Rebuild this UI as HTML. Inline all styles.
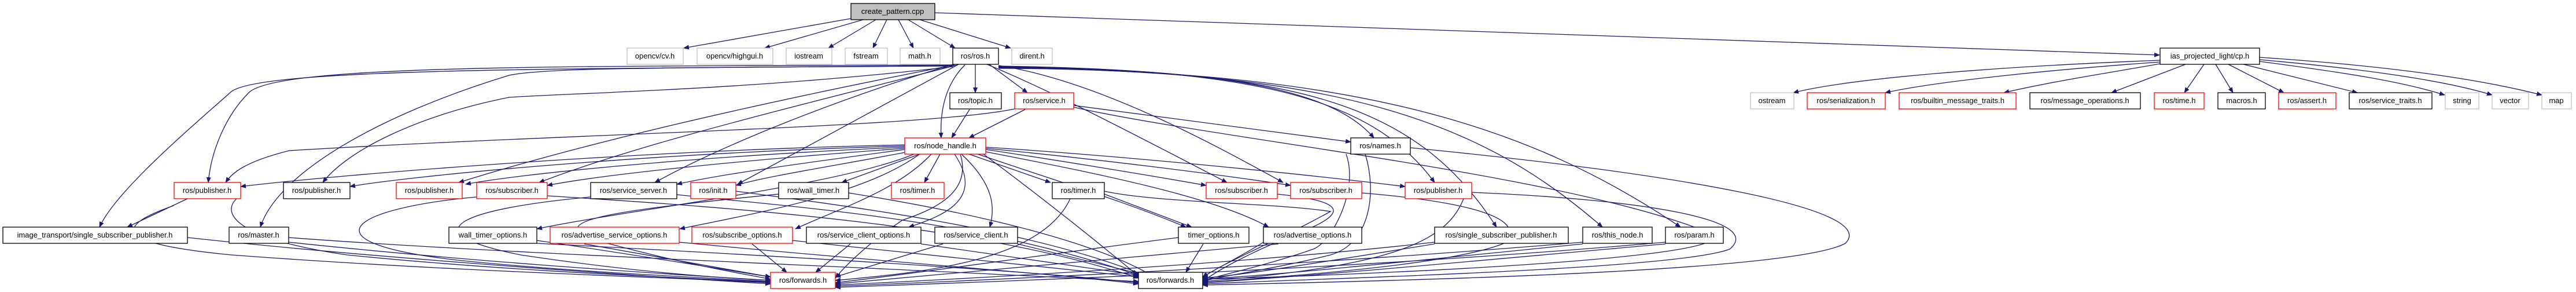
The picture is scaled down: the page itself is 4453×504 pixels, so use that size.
<!DOCTYPE html>
<html><head><meta charset="utf-8"><style>
html,body{margin:0;padding:0;background:#fff;}
svg{display:block;}
text{font-family:"Liberation Sans",sans-serif;font-size:13px;text-anchor:middle;fill:#000;}
.e{fill:none;stroke:#191970;stroke-width:1.3;marker-end:url(#a);}
.b{fill:#fff;stroke:#000;stroke-width:1.3;}
.r{fill:#fff;stroke:#ff0000;stroke-width:1.3;}
.g{fill:#fff;stroke:#bfbfbf;stroke-width:1.3;}
</style></head><body>
<svg width="4453" height="504" viewBox="0 0 4453 504" xmlns="http://www.w3.org/2000/svg">
<defs><marker id="a" markerWidth="10" markerHeight="8" refX="9" refY="4" orient="auto" markerUnits="userSpaceOnUse"><path d="M0,0 L10,4 L0,8 z" fill="#191970"/></marker></defs>
<g>
<!-- root edges -->
<path class="e" d="M1471,32 L1182,83"/>
<path class="e" d="M1492,34 L1322,83"/>
<path class="e" d="M1514,34 L1432,83"/>
<path class="e" d="M1533,34 L1509,83"/>
<path class="e" d="M1553,34 L1579,83"/>
<path class="e" d="M1570,34 L1651,83"/>
<path class="e" d="M1590,34 L1747,83"/>
<path class="e" d="M1616,22 L3733,95"/>
<!-- cp.h edges -->
<path class="e" d="M3734,104 C3450,115 3200,135 3100,160"/>
<path class="e" d="M3734,107 C3550,120 3350,140 3259,160"/>
<path class="e" d="M3734,110 C3650,125 3550,140 3464,160"/>
<path class="e" d="M3778,111 L3650,160"/>
<path class="e" d="M3810,111 L3776,160"/>
<path class="e" d="M3830,111 L3860,160"/>
<path class="e" d="M3852,111 L3948,160"/>
<path class="e" d="M3878,111 L4075,160"/>
<path class="e" d="M3906,106 C4050,125 4150,140 4226,164"/>
<path class="e" d="M3906,103 C4100,120 4230,140 4308,164"/>
<path class="e" d="M3906,99 C4150,115 4300,140 4394,164"/>
<!-- ros.h edges -->
<path class="e" d="M1686,111 L1686,160"/>
<path class="e" d="M1710,111 L1776,160"/>
<path class="e" d="M1668,112 C1630,150 1625,200 1627,238"/>
<path class="e" d="M1647,112 C1000,115 480,110 430,160 C390,200 365,260 360,315"/>
<path class="e" d="M1647,114 C900,118 450,120 400,158 C330,220 200,330 172,392"/>
<path class="e" d="M1647,113 C1200,118 950,115 880,130 C650,200 480,300 450,392"/>
<path class="e" d="M1647,115 C1300,155 1000,160 880,168 C720,200 600,260 558,315"/>
<path class="e" d="M1650,112 C1300,180 1000,250 793,315"/>
<path class="e" d="M1655,112 C1350,190 1100,250 932,315"/>
<path class="e" d="M1648,111 C1450,170 1250,250 1132,315"/>
<path class="e" d="M1657,111 C1550,170 1400,250 1275,318"/>
<path class="e" d="M1706,111 C1800,150 1900,200 2121,315"/>
<path class="e" d="M1726,113 C1900,140 2100,250 2218,315"/>
<path class="e" d="M1726,114 C2100,120 2300,150 2375,238"/>
<path class="e" d="M1726,115 C2200,118 2380,180 2480,315"/>
<path class="e" d="M1726,116 C2250,120 2450,180 2587,392"/>
<path class="e" d="M1726,117 C2300,122 2550,200 2770,392"/>
<path class="e" d="M1726,118 C2350,120 2650,220 2905,392"/>
<!-- service/topic -->
<path class="e" d="M1676,189 L1645,238"/>
<path class="e" d="M1772,189 L1675,238"/>
<path class="e" d="M1856,182 L2335,245"/>
<path class="e" d="M1754,188 C1600,220 1000,230 500,260 C420,280 400,300 390,315"/>
<path class="e" d="M1856,185 C2100,240 2700,300 2950,400 C3050,440 2500,470 2079,482"/>
<!-- node_handle -->
<path class="e" d="M1564,250 C1100,260 600,300 416,322"/>
<path class="e" d="M1564,252 C1100,265 700,305 605,322"/>
<path class="e" d="M1564,254 C1200,270 900,300 805,318"/>
<path class="e" d="M1564,256 C1300,275 1050,300 946,320"/>
<path class="e" d="M1564,258 C1400,280 1250,300 1170,318"/>
<path class="e" d="M1570,262 C1450,285 1320,305 1272,320"/>
<path class="e" d="M1590,266 L1455,315"/>
<path class="e" d="M1625,266 L1598,315"/>
<path class="e" d="M1675,266 L1816,315"/>
<path class="e" d="M1704,258 C1850,280 2000,305 2085,320"/>
<path class="e" d="M1704,256 C1900,275 2100,300 2231,320"/>
<path class="e" d="M1704,254 C1950,270 2250,300 2429,322"/>
<path class="e" d="M1580,266 C1450,320 1100,360 928,395"/>
<path class="e" d="M1590,266 C1500,330 1350,360 1175,395"/>
<path class="e" d="M1610,266 C1550,330 1450,360 1375,395"/>
<path class="e" d="M1650,266 C1700,340 1640,370 1571,392"/>
<path class="e" d="M1662,266 C1720,320 1720,360 1711,392"/>
<path class="e" d="M1690,266 C1850,320 1950,350 2050,392"/>
<path class="e" d="M1704,262 C1900,300 2100,340 2193,392"/>
<path class="e" d="M1660,266 C1680,330 1620,360 1560,380 C1500,420 1460,460 1444,480"/>
<path class="e" d="M1700,266 C1800,340 1900,420 1970,478"/>
<!-- timer -->
<path class="e" d="M1909,335 L2060,392"/>
<path class="e" d="M1850,343 C1800,450 1600,470 1444,484"/>
<path class="e" d="M1909,330 C2000,350 2200,350 2300,365 C2200,420 2100,460 2079,480"/>
<!-- row4 to forwards -->
<path class="e" d="M1170,336 C1400,360 1700,380 1975,478"/>
<path class="e" d="M1272,330 C1500,360 1800,400 1985,478"/>
<path class="e" d="M1467,333 C1700,370 1900,420 1995,478"/>
<path class="e" d="M1346,335 C1100,360 900,380 1050,420 C1200,460 1300,475 1332,482"/>
<path class="e" d="M1021,340 C800,360 700,400 900,440 C1100,470 1250,480 1332,484"/>
<path class="e" d="M824,340 C600,360 520,420 800,450 C1000,470 1200,478 1332,486"/>
<path class="e" d="M416,338 C380,360 390,410 600,440 C900,470 1200,480 1332,487"/>
<path class="e" d="M300,355 C200,390 190,420 400,440 C800,470 1200,480 1332,488"/>
<path class="e" d="M946,338 C1300,360 1700,390 1968,480"/>
<path class="e" d="M2208,335 C2300,345 2350,360 2250,400 C2150,440 2100,470 2079,486"/>
<path class="e" d="M2354,333 C2500,345 2650,370 2600,420 C2500,460 2200,478 2079,488"/>
<path class="e" d="M2544,332 C2850,345 3050,380 2990,430 C2900,465 2300,480 2079,490"/>
<path class="e" d="M2438,255 C2900,300 3250,360 3190,420 C3100,470 2400,485 2079,492"/>
<path class="e" d="M2327,266 C2350,330 2300,420 2270,430 C2200,455 2100,478 2079,484"/>
<path class="e" d="M2530,343 C2500,420 2400,460 2079,486"/>
<!-- row5 to forwards -->
<path class="e" d="M324,410 C600,440 1000,470 1332,490"/>
<path class="e" d="M499,410 C900,440 1500,460 1968,486"/>
<path class="e" d="M499,418 C800,450 1100,470 1332,484"/>
<path class="e" d="M928,420 C1500,450 1800,470 1968,488"/>
<path class="e" d="M928,415 C1100,440 1250,465 1332,478"/>
<path class="e" d="M1010,421 L1332,478"/>
<path class="e" d="M1174,418 C1500,450 1800,470 1968,490"/>
<path class="e" d="M1300,421 L1360,470"/>
<path class="e" d="M1370,415 C1600,440 1850,465 1968,478"/>
<path class="e" d="M1470,421 L1410,470"/>
<path class="e" d="M1592,421 L1968,475"/>
<path class="e" d="M1630,421 L1444,478"/>
<path class="e" d="M1759,421 L1968,472"/>
<path class="e" d="M2037,410 C1800,440 1600,470 1444,488"/>
<path class="e" d="M2080,421 L2050,470"/>
<path class="e" d="M2184,418 C2150,440 2100,465 2079,478"/>
<path class="e" d="M2210,421 C1900,450 1600,475 1444,490"/>
<path class="e" d="M2480,418 C2200,450 1800,475 1444,492"/>
<path class="e" d="M2480,421 C2300,450 2150,475 2079,480"/>
<path class="e" d="M2736,421 C2400,455 2200,475 2079,482"/>
<path class="e" d="M2736,418 C2300,455 1800,480 1444,494"/>
<path class="e" d="M2879,421 C2500,455 2250,478 2079,488"/>
<path class="e" d="M2879,418 C2400,460 1900,480 1444,496"/>
<path class="e" d="M2360,266 C2380,330 2370,420 2300,440 C2200,465 2100,478 2079,486"/>
<!-- misc -->
<path class="e" d="M324,343 L220,392"/>
</g>
<g>
<rect x="1471" y="6" width="145" height="28" fill="#bfbfbf" stroke="#000" stroke-width="1.3"/><text x="1543" y="24">create_pattern.cpp</text>
<rect class="g" x="1084" y="83" width="97" height="28"/><text x="1132" y="101">opencv/cv.h</text>
<rect class="g" x="1205" y="83" width="131" height="28"/><text x="1270" y="101">opencv/highgui.h</text>
<rect class="g" x="1359" y="83" width="79" height="28"/><text x="1398" y="101">iostream</text>
<rect class="g" x="1461" y="83" width="73" height="28"/><text x="1497" y="101">fstream</text>
<rect class="g" x="1556" y="83" width="69" height="28"/><text x="1590" y="101">math.h</text>
<rect class="b" x="1647" y="83" width="79" height="28"/><text x="1686" y="101">ros/ros.h</text>
<rect class="g" x="1749" y="83" width="70" height="28"/><text x="1784" y="101">dirent.h</text>
<rect class="b" x="3734" y="83" width="172" height="28"/><text x="3820" y="101">ias_projected_light/cp.h</text>
<rect class="b" x="1642" y="160" width="89" height="28"/><text x="1686" y="178">ros/topic.h</text>
<rect class="r" x="1754" y="160" width="102" height="28"/><text x="1805" y="178">ros/service.h</text>
<rect class="g" x="3026" y="160" width="75" height="28"/><text x="3063" y="178">ostream</text>
<rect class="r" x="3124" y="160" width="135" height="28"/><text x="3191" y="178">ros/serialization.h</text>
<rect class="r" x="3283" y="160" width="202" height="28"/><text x="3384" y="178">ros/builtin_message_traits.h</text>
<rect class="b" x="3509" y="160" width="191" height="28"/><text x="3604" y="178">ros/message_operations.h</text>
<rect class="r" x="3724" y="160" width="86" height="28"/><text x="3767" y="178">ros/time.h</text>
<rect class="b" x="3834" y="160" width="82" height="28"/><text x="3875" y="178">macros.h</text>
<rect class="r" x="3939" y="160" width="99" height="28"/><text x="3988" y="178">ros/assert.h</text>
<rect class="b" x="4061" y="160" width="143" height="28"/><text x="4132" y="178">ros/service_traits.h</text>
<rect class="g" x="4227" y="160" width="58" height="28"/><text x="4256" y="178">string</text>
<rect class="g" x="4308" y="160" width="63" height="28"/><text x="4339" y="178">vector</text>
<rect class="g" x="4394" y="160" width="51" height="28"/><text x="4419" y="178">map</text>
<rect class="r" x="1564" y="238" width="140" height="28"/><text x="1634" y="256">ros/node_handle.h</text>
<rect class="b" x="2335" y="238" width="103" height="28"/><text x="2386" y="256">ros/names.h</text>
<rect class="r" x="301" y="315" width="115" height="28"/><text x="358" y="333">ros/publisher.h</text>
<rect class="b" x="490" y="315" width="115" height="28"/><text x="547" y="333">ros/publisher.h</text>
<rect class="r" x="685" y="315" width="114" height="28"/><text x="742" y="333">ros/publisher.h</text>
<rect class="r" x="824" y="315" width="122" height="28"/><text x="885" y="333">ros/subscriber.h</text>
<rect class="b" x="1021" y="315" width="149" height="28"/><text x="1095" y="333">ros/service_server.h</text>
<rect class="r" x="1194" y="315" width="78" height="28"/><text x="1233" y="333">ros/init.h</text>
<rect class="b" x="1346" y="315" width="121" height="28"/><text x="1406" y="333">ros/wall_timer.h</text>
<rect class="r" x="1541" y="315" width="91" height="28"/><text x="1586" y="333">ros/timer.h</text>
<rect class="b" x="1819" y="315" width="90" height="28"/><text x="1864" y="333">ros/timer.h</text>
<rect class="r" x="2085" y="315" width="123" height="28"/><text x="2146" y="333">ros/subscriber.h</text>
<rect class="r" x="2231" y="315" width="123" height="28"/><text x="2292" y="333">ros/subscriber.h</text>
<rect class="r" x="2429" y="315" width="115" height="28"/><text x="2486" y="333">ros/publisher.h</text>
<rect class="b" x="5" y="392" width="319" height="28"/><text x="164" y="410">image_transport/single_subscriber_publisher.h</text>
<rect class="b" x="396" y="392" width="103" height="28"/><text x="447" y="410">ros/master.h</text>
<rect class="b" x="776" y="392" width="152" height="28"/><text x="852" y="410">wall_timer_options.h</text>
<rect class="r" x="951" y="392" width="223" height="28"/><text x="1062" y="410">ros/advertise_service_options.h</text>
<rect class="r" x="1196" y="392" width="174" height="28"/><text x="1283" y="410">ros/subscribe_options.h</text>
<rect class="b" x="1394" y="392" width="198" height="28"/><text x="1493" y="410">ros/service_client_options.h</text>
<rect class="b" x="1616" y="392" width="143" height="28"/><text x="1687" y="410">ros/service_client.h</text>
<rect class="b" x="2037" y="392" width="122" height="28"/><text x="2098" y="410">timer_options.h</text>
<rect class="b" x="2184" y="392" width="170" height="28"/><text x="2269" y="410">ros/advertise_options.h</text>
<rect class="b" x="2480" y="392" width="231" height="28"/><text x="2595" y="410">ros/single_subscriber_publisher.h</text>
<rect class="b" x="2736" y="392" width="120" height="28"/><text x="2796" y="410">ros/this_node.h</text>
<rect class="b" x="2879" y="392" width="100" height="28"/><text x="2929" y="410">ros/param.h</text>
<rect class="r" x="1332" y="470" width="112" height="28"/><text x="1388" y="488">ros/forwards.h</text>
<rect class="b" x="1968" y="470" width="111" height="28"/><text x="2023" y="488">ros/forwards.h</text>
</g>
</svg>
</body></html>
